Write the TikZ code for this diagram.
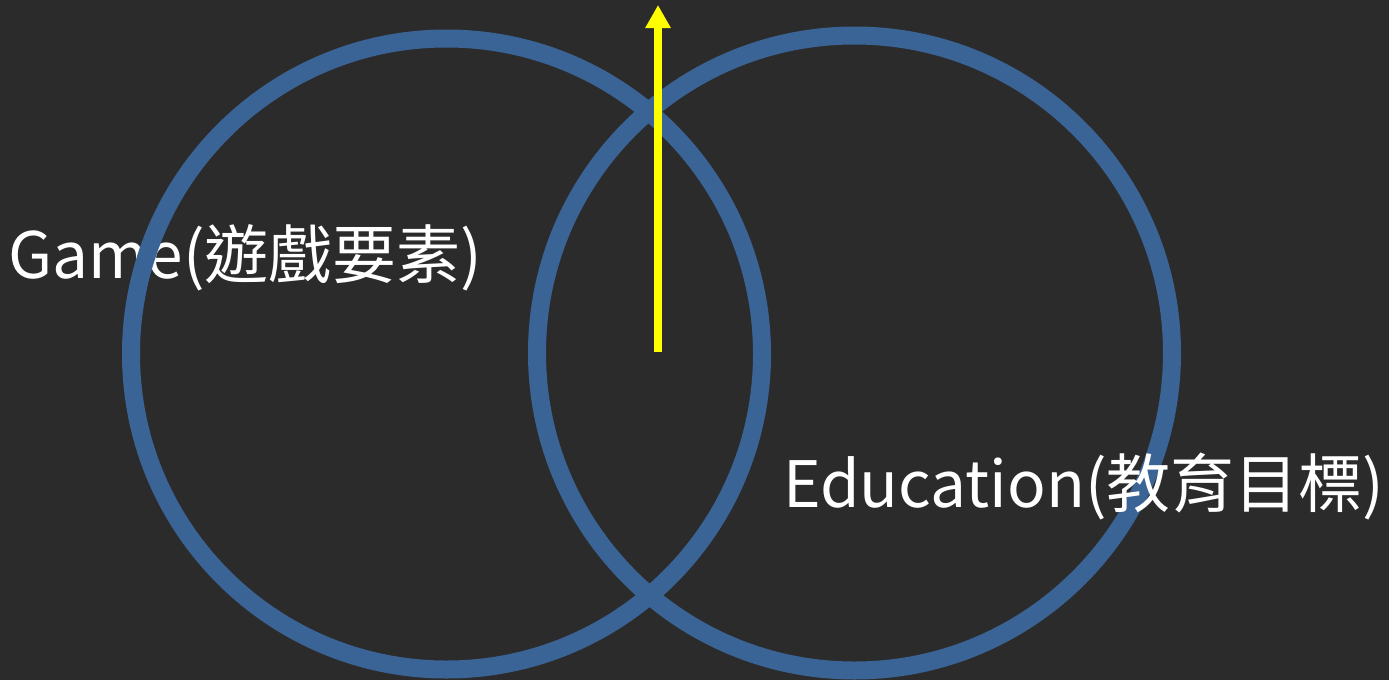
\documentclass[tikz,border=0pt]{standalone}
\usepackage{fontspec}
\setmainfont{Noto Sans CJK TC}
\usetikzlibrary{arrows.meta}
\definecolor{board}{HTML}{2B2B2B}
\definecolor{ringblue}{HTML}{3A6396}
\definecolor{arrowyellow}{HTML}{FFFF00}
\tikzset{
  ring/.style={draw=ringblue, line width=18pt},
  label/.style={text=white, inner sep=0pt, anchor=base west, font=\fontsize{64pt}{72pt}\selectfont},
  uparrow/.style={draw=arrowyellow, line width=8pt, -{Triangle[width=24pt,length=23pt]}}
}
\begin{document}
\begin{tikzpicture}[x=1pt,y=-1pt]
\fill[board] (0,0) rectangle (1389,680);
\useasboundingbox (0,0) rectangle (1389,680);
\node[label] (game) at (8,278) {Game(遊戲要素)};
\node[ring, circle, minimum size=631pt, inner sep=0pt] (left) at (446.5,354) {};
\node[ring, circle, minimum size=635pt, inner sep=0pt] (right) at (854.5,353) {};
\node[label] (edu) at (783,507) {Education(教育目標)};
\coordinate (arrowbase) at (658,352);
\coordinate (arrowtip) at (658,5);
\draw[uparrow] (arrowbase) -- (arrowtip);
\end{tikzpicture}
\end{document}
